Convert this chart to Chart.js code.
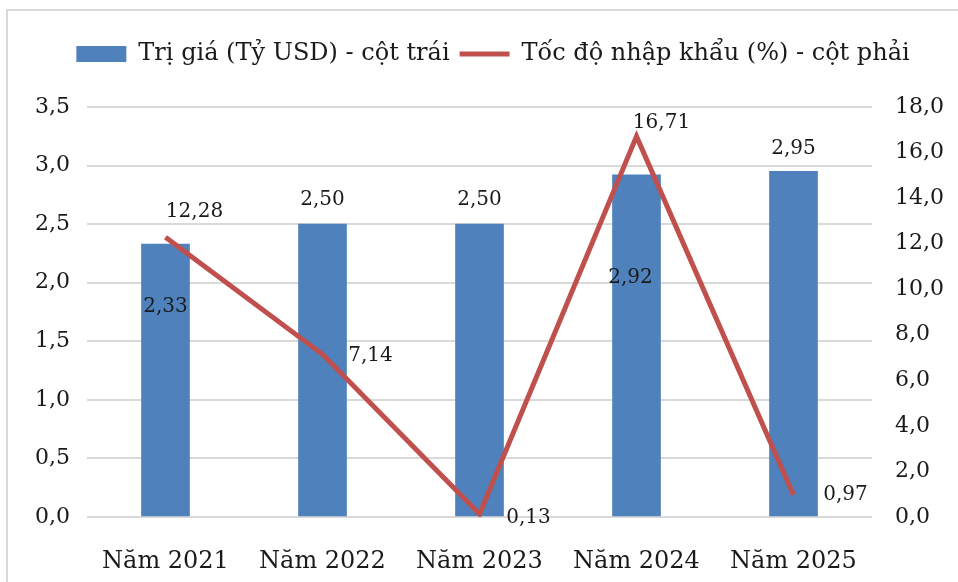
<!DOCTYPE html>
<html>
<head>
<meta charset="utf-8">
<script src="https://cdn.jsdelivr.net/npm/chart.js@4.4.1/dist/chart.umd.min.js"></script>
<style>
html, body { margin: 0; padding: 0; background: #fff; }
#wrap { position: relative; width: 958px; height: 582px; overflow: hidden; }
#frame { position: absolute; left: 6px; top: 9px; width: 1000px; height: 1000px; border: 2px solid #d9d9d9; }
canvas { position: absolute; left: 0; top: 0; }
</style>
</head>
<body>
<div id="wrap">
  <div id="frame"></div>
  <canvas id="chart" width="958" height="582"></canvas>
</div>
<script>
// Dữ liệu
const years = ['Năm 2021', 'Năm 2022', 'Năm 2023', 'Năm 2024', 'Năm 2025'];
const triGia = [2.33, 2.50, 2.50, 2.92, 2.95];
const tocDo = [12.28, 7.14, 0.13, 16.71, 0.97];
const seriesNames = ['Trị giá (Tỷ USD) - cột trái', 'Tốc độ nhập khẩu (%) - cột phải'];

// Vị trí nhãn dữ liệu (lệch so với điểm, px)
const barLabelOffsets = [[0, 63], [0, -24], [0, -24], [-6, 103], [0, -23]];
const lineLabelOffsets = [[29, -25], [48, 1], [49, 4], [25, -14], [52, 0]];

const colors = {
  bar: '#4F81BD',
  line: '#C0504D',
  text: '#1a1a1a',
  grid: '#d9d9d9'
};
const fontFamily = "'DejaVu Serif', serif";

const fmt = (v, d) => v.toFixed(d).replace('.', ',');

// Nhãn dữ liệu
const dataLabels = {
  id: 'dataLabels',
  afterDatasetsDraw(chart) {
    const ctx = chart.ctx;
    ctx.save();
    ctx.font = '20px ' + fontFamily;
    ctx.fillStyle = colors.text;
    ctx.textAlign = 'center';
    ctx.textBaseline = 'middle';
    chart.data.datasets.forEach((ds, i) => {
      const offsets = ds.type === 'bar' ? barLabelOffsets : lineLabelOffsets;
      chart.getDatasetMeta(i).data.forEach((el, j) => {
        const [dx, dy] = offsets[j];
        ctx.fillText(fmt(ds.data[j], 2), el.x + dx, el.y + dy);
      });
    });
    ctx.restore();
  }
};

// Chiều cao và vị trí vùng chú thích
const legendBox = {
  id: 'legendBox',
  beforeInit(chart) {
    const fit = chart.legend.fit;
    chart.legend.fit = function() {
      fit.bind(chart.legend)();
      this.height = 75;
    };
  },
  afterLayout(chart) {
    chart.legend.left += 14;
    chart.legend.right += 14;
  }
};

new Chart(document.getElementById('chart'), {
  data: {
    labels: years,
    datasets: [
      {
        type: 'line',
        label: seriesNames[1],
        data: tocDo,
        yAxisID: 'y1',
        borderColor: colors.line,
        backgroundColor: colors.line,
        borderWidth: 5,
        pointRadius: 0,
        tension: 0,
        order: 0
      },
      {
        type: 'bar',
        label: seriesNames[0],
        data: triGia,
        yAxisID: 'y',
        backgroundColor: colors.bar,
        borderWidth: 0,
        barThickness: 48,
        order: 1
      }
    ]
  },
  options: {
    responsive: false,
    animation: false,
    layout: { padding: { top: 32, left: 0, right: 0, bottom: 0 } },
    plugins: {
      tooltip: { enabled: false },
      legend: {
        position: 'top',
        reverse: true,
        labels: {
          color: colors.text,
          font: { family: fontFamily, size: 24 },
          usePointStyle: true,
          pointStyleWidth: 50,
          boxHeight: 16,
          padding: 10,
          generateLabels(chart) {
            const items = Chart.defaults.plugins.legend.labels.generateLabels(chart);
            items.forEach(it => {
              if (it.datasetIndex === 1) {
                it.pointStyle = 'rect';
                it.fillStyle = colors.bar;
                it.lineWidth = 0;
              } else {
                it.pointStyle = 'line';
                it.strokeStyle = colors.line;
                it.lineWidth = 5;
              }
            });
            return items;
          }
        }
      }
    },
    scales: {
      x: {
        grid: { display: false },
        border: { display: false },
        ticks: {
          color: colors.text,
          font: { family: fontFamily, size: 24 },
          padding: 22
        },
        afterFit(scale) { scale.height = 65; }
      },
      y: {
        position: 'left',
        min: 0,
        max: 3.5,
        grid: { color: colors.grid, lineWidth: 2, drawTicks: false },
        border: { display: false },
        ticks: {
          stepSize: 0.5,
          color: colors.text,
          font: { family: fontFamily, size: 22 },
          padding: 17,
          callback: v => fmt(v, 1)
        },
        afterFit(scale) { scale.width = 87; }
      },
      y1: {
        position: 'right',
        min: 0,
        max: 18,
        grid: { display: false, drawTicks: false },
        border: { display: false },
        ticks: {
          stepSize: 2,
          color: colors.text,
          font: { family: fontFamily, size: 22 },
          padding: 23,
          callback: v => fmt(v, 1)
        },
        afterFit(scale) { scale.width = 86; }
      }
    }
  },
  plugins: [legendBox, dataLabels]
});
</script>
</body>
</html>
